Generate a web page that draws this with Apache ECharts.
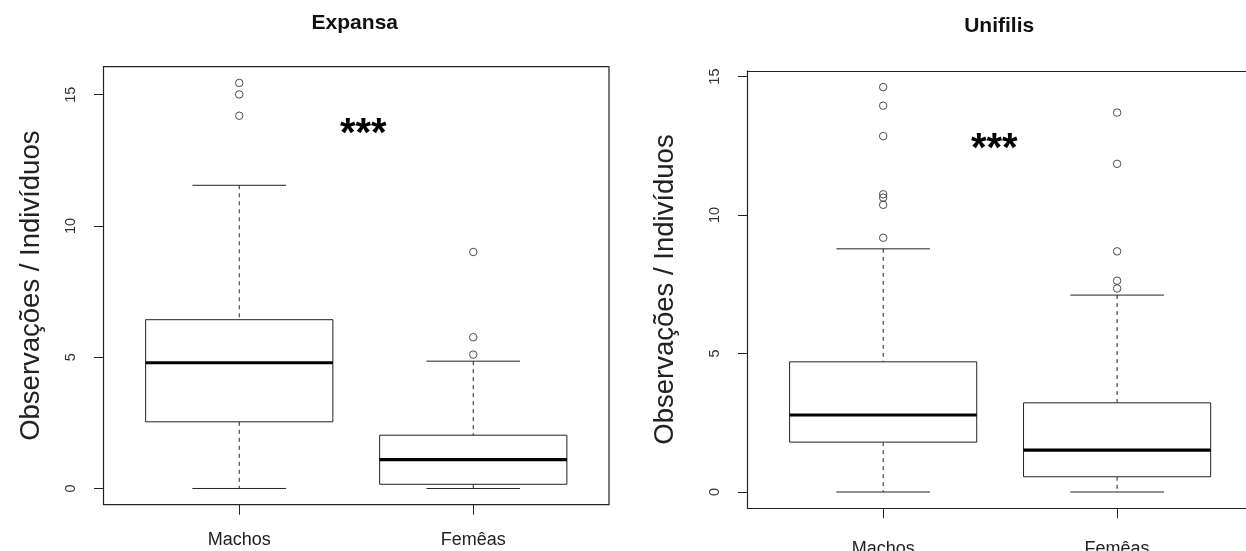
<!DOCTYPE html>
<html><head><meta charset="utf-8">
<script src="https://cdn.jsdelivr.net/npm/echarts@6/dist/echarts.min.js"></script>
<style>html,body{margin:0;padding:0;background:#fff}#c{width:1246px;height:551px}</style>
</head><body><div id="c"></div>
<script>
// ---------- data ----------
const categories = ['Machos', 'Femêas'];
const panelTitles = ['Expansa', 'Unifilis'];
const yAxisTitle = 'Observações / Indivíduos';
const yTicks = [0, 5, 10, 15];
// box stats per category: [lower whisker, Q1, median, Q3, upper whisker]
const expansaBoxes = [[0, 2.54, 4.79, 6.43, 11.55], [0, 0.16, 1.10, 2.03, 4.85]];
const expansaOutliers = [[15.45, 15.01, 14.20], [9.01, 5.76, 5.10]];
const unifilisBoxes = [[0, 1.80, 2.78, 4.70, 8.78], [0, 0.55, 1.51, 3.22, 7.11]];
const unifilisOutliers = [[14.62, 13.95, 12.85, 10.75, 10.63, 10.37, 9.18], [13.70, 11.85, 8.69, 7.63, 7.35]];
const sigLabel = '***';
const sigAnchors = [[1.53, 13.45], [1.475, 12.34]];

// ---------- layout ----------
const FONT = '"Liberation Sans", Arial, sans-serif';
const LINE = '#222';
const grids = [
  {left: 103.5, top: 66.7, width: 505.5, height: 438, show: true},
  {left: 747.5, top: 70.9, right: 0, height: 437.3, show: false}
];
// right panel runs off the canvas edge: visible range ends before 2.58
const xMaxes = [2.58, 2.551];
const labelMargins = [26, 32];
const panels = [
  {boxes: expansaBoxes, outliers: expansaOutliers},
  {boxes: unifilisBoxes, outliers: unifilisOutliers}
];

function yRange(p) {
  let hi = 0, lo = Infinity;
  p.boxes.forEach(b => { hi = Math.max(hi, b[4]); lo = Math.min(lo, b[0]); });
  p.outliers.forEach(o => o.forEach(v => { hi = Math.max(hi, v); lo = Math.min(lo, v); }));
  const ext = 0.04 * (hi - lo);
  return [lo - ext, hi + ext];
}

function renderBox(params, api) {
  const x = api.value(0);
  const lo = api.coord([x, api.value(1)]);
  const q1 = api.coord([x, api.value(2)]);
  const med = api.coord([x, api.value(3)]);
  const q3 = api.coord([x, api.value(4)]);
  const hi = api.coord([x, api.value(5)]);
  const bw = api.size([0.8, 0])[0];
  const cw = bw / 2;
  const cx = lo[0];
  const ls = {stroke: LINE, lineWidth: 1, fill: null};
  const dash = Object.assign({}, ls, {lineDash: [4, 4]});
  return {type: 'group', children: [
    {type: 'line', shape: {x1: cx, y1: hi[1], x2: cx, y2: q3[1]}, style: dash},
    {type: 'line', shape: {x1: cx, y1: q1[1], x2: cx, y2: lo[1]}, style: dash},
    {type: 'line', shape: {x1: cx - cw / 2, y1: hi[1], x2: cx + cw / 2, y2: hi[1]}, style: ls},
    {type: 'line', shape: {x1: cx - cw / 2, y1: lo[1], x2: cx + cw / 2, y2: lo[1]}, style: ls},
    {type: 'rect', shape: {x: cx - bw / 2, y: q3[1], width: bw, height: q1[1] - q3[1]},
      style: {stroke: LINE, fill: '#fff', lineWidth: 1}},
    {type: 'line', shape: {x1: cx - bw / 2, y1: med[1], x2: cx + bw / 2, y2: med[1]},
      style: {stroke: '#000', lineWidth: 3.2}}
  ]};
}

const xAxes = [], yAxes = [], series = [], graphics = [];
panels.forEach((p, i) => {
  const [ymin, ymax] = yRange(p);
  const frameLine = {show: !grids[i].show, onZero: false, lineStyle: {color: LINE, width: 1.2}};
  xAxes.push({
    type: 'value', gridIndex: i, min: 0.42, max: xMaxes[i], position: 'bottom',
    axisLine: frameLine, splitLine: {show: false},
    axisTick: {show: true, customValues: [1, 2], length: 10, lineStyle: {color: LINE, width: 1}},
    axisLabel: {show: true, customValues: [1, 2], margin: labelMargins[i],
      formatter: v => categories[Math.round(v) - 1] || '',
      fontFamily: FONT, fontSize: 18, color: '#222'}
  });
  yAxes.push({
    type: 'value', gridIndex: i, min: ymin, max: ymax, position: 'left',
    axisLine: frameLine, splitLine: {show: false},
    axisTick: {show: true, customValues: yTicks, length: 9.5, lineStyle: {color: LINE, width: 1}},
    axisLabel: {show: true, customValues: yTicks, rotate: 90, margin: 25,
      fontFamily: FONT, fontSize: 14.5, color: '#333'}
  });
  series.push({
    type: 'custom', xAxisIndex: i, yAxisIndex: i, renderItem: renderBox,
    data: p.boxes.map((b, k) => [k + 1].concat(b)), silent: true
  });
  const pts = [];
  p.outliers.forEach((arr, k) => arr.forEach(v => pts.push([k + 1, v])));
  series.push({
    type: 'scatter', xAxisIndex: i, yAxisIndex: i, data: pts, symbol: 'circle', symbolSize: 7.5,
    itemStyle: {color: 'rgba(0,0,0,0)', borderColor: LINE, borderWidth: 1}, silent: true
  });
  series.push({
    type: 'custom', xAxisIndex: i, yAxisIndex: i, data: [sigAnchors[i]], silent: true,
    renderItem: (params, api) => {
      const c = api.coord([api.value(0), api.value(1)]);
      return {type: 'text', x: c[0], y: c[1], style: {text: sigLabel, fill: '#000',
        font: 'bold 40px ' + FONT, textAlign: 'center', textVerticalAlign: 'middle'}};
    }
  });
  graphics.push({type: 'text', x: i === 0 ? 354.8 : 999.2, y: i === 0 ? 22.8 : 26.3,
    style: {text: panelTitles[i], font: 'bold 21px ' + FONT, fill: '#111', textAlign: 'center', textVerticalAlign: 'middle'}});
  graphics.push({type: 'text', x: i === 0 ? 31.6 : 665.9, y: i === 0 ? 285.7 : 289.5, rotation: Math.PI / 2,
    style: {text: yAxisTitle, font: '27.5px ' + FONT, fill: '#222', textAlign: 'center', textVerticalAlign: 'middle'}});
});
// top edge of the right-hand frame (its right edge lies beyond the canvas)
xAxes.push({
  type: 'value', gridIndex: 1, min: 0.42, max: xMaxes[1], position: 'top',
  axisLine: {show: true, onZero: false, lineStyle: {color: LINE, width: 1.2}},
  axisTick: {show: false}, axisLabel: {show: false}, splitLine: {show: false}
});

const chart = echarts.init(document.getElementById('c'), null, {renderer: 'canvas'});
chart.setOption({
  animation: false,
  backgroundColor: '#fff',
  grid: grids.map(g => Object.assign({borderColor: LINE, borderWidth: 1.2, backgroundColor: 'transparent',
    containLabel: false, outerBoundsMode: 'none'}, g)),
  xAxis: xAxes,
  yAxis: yAxes,
  series: series,
  graphic: graphics
});
</script></body></html>
